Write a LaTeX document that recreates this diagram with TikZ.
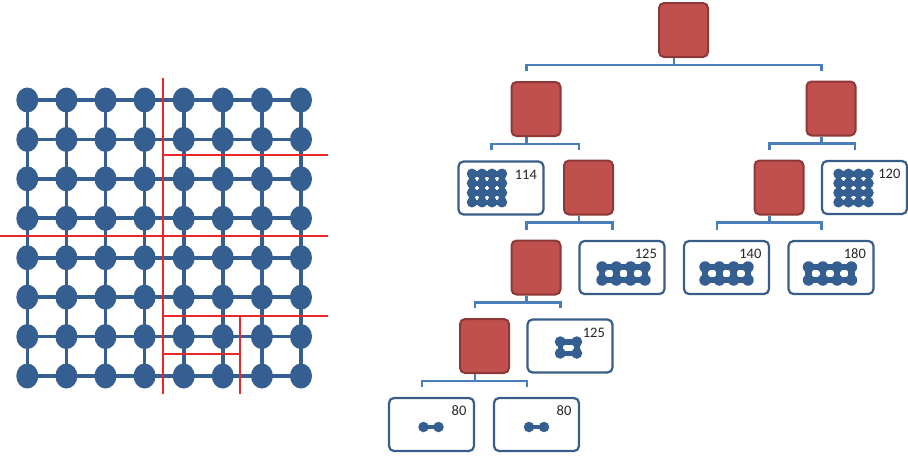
\documentclass[tikz,border=0pt]{standalone}
\usepackage{fontspec}
\setmainfont{Carlito}
\usetikzlibrary{shapes.geometric,calc}
\definecolor{nodeblue}{HTML}{365F91}
\definecolor{connblue}{HTML}{4A7EBB}
\definecolor{boxred}{HTML}{C0504D}
\definecolor{boxredline}{HTML}{8C3836}
\definecolor{leafline}{HTML}{385D8A}
\definecolor{cutred}{HTML}{E8282B}
\tikzset{
 bignode/.style={ellipse, fill=nodeblue, minimum width=22pt, minimum height=25pt, inner sep=0pt},
 bigedge/.style={nodeblue, line width=3.6pt},
 cutline/.style={cutred, line width=1.1pt},
 redbox/.style={draw=boxredline, fill=boxred, line width=2pt, rounded corners=5pt, minimum width=49pt, minimum height=54pt, inner sep=0pt},
 leafbox/.style={draw=leafline, fill=white, line width=2.2pt, rounded corners=5pt, minimum width=85pt, minimum height=53pt, inner sep=0pt},
 conn/.style={connblue, line width=2.8pt},
 numlabel/.style={anchor=east, font=\fontsize{14.5}{16}\selectfont, inner sep=0pt, text=black!85},
 minidot/.style={circle, fill=nodeblue, minimum size=#1, inner sep=0pt},
 miniedge/.style={nodeblue, line width=#1},
}
% name, cx, cy, cols, rows, dx, dy, dot size, edge width
\newcommand\dotgrid[9]{%
  \foreach \i in {1,...,#4}{\foreach \j in {1,...,#5}{%
    \node[minidot=#8] (#1-\i-\j) at ({#2+(\i-(#4+1)/2)*#6},{#3+(\j-(#5+1)/2)*#7}) {};}}%
  \foreach \i in {1,...,#4}{\foreach \j in {1,...,#5}{%
    \ifnum\i<#4 \pgfmathtruncatemacro\ni{\i+1}\draw[miniedge=#9] (#1-\i-\j.center) -- (#1-\ni-\j.center);\fi
    \ifnum\j<#5 \pgfmathtruncatemacro\nj{\j+1}\draw[miniedge=#9] (#1-\i-\j.center) -- (#1-\i-\nj.center);\fi
  }}%
}
% parent, child1, child2
\newcommand\branch[3]{%
  \draw[conn] ([xshift=-9.5pt]#1.south) -- ++(0,7) coordinate (#1-m);
  \draw[conn] ([xshift=-9.5pt,yshift=10pt]#2.north) |- (#1-m) -| ([xshift=-9.5pt,yshift=10pt]#3.north);
}
\begin{document}
\begin{tikzpicture}[x=1pt,y=-1pt]
\useasboundingbox (0,0) rectangle (908,472);
% big grid
\foreach \i in {1,...,8}{\foreach \j in {1,...,8}{%
  \node[bignode] (g-\i-\j) at ({27.3+39.1*(\i-1)},{100+39.43*(\j-1)}) {};}}
\foreach \i in {1,...,8}{\foreach \j in {1,...,8}{%
  \ifnum\i<8 \pgfmathtruncatemacro\ni{\i+1}\draw[bigedge] (g-\i-\j.center) -- (g-\ni-\j.center);\fi
  \ifnum\j<8 \pgfmathtruncatemacro\nj{\j+1}\draw[bigedge] (g-\i-\j.center) -- (g-\i-\nj.center);\fi
}}
% cut lines
\draw[cutline] (163,78) -- (163,394);
\draw[cutline] (0,236) -- (328,236);
\draw[cutline] (163,155) -- (328,155);
\draw[cutline] (163,316) -- (328,316);
\draw[cutline] (240,316) -- (240,394);
\draw[cutline] (163,354) -- (240,354);
% tree boxes
\node[redbox] (root) at (683.5,30) {};
\node[redbox] (L1) at (536,109) {};
\node[redbox] (R1) at (831,108.5) {};
\node[leafbox] (f114) at (501,188) {};
\node[redbox] (L2) at (588.5,187.5) {};
\node[redbox] (R2) at (779,187.5) {};
\node[leafbox] (f120) at (864.5,187.5) {};
\node[redbox] (L3) at (536,267.5) {};
\node[leafbox] (f125a) at (622,267.5) {};
\node[leafbox] (f140) at (726.5,267.5) {};
\node[leafbox] (f180) at (831,267.5) {};
\node[redbox] (L4) at (484.5,346) {};
\node[leafbox] (f125b) at (570,346) {};
\node[leafbox] (f80a) at (431.5,424.5) {};
\node[leafbox] (f80b) at (536.5,424.5) {};
% connectors
\branch{root}{L1}{R1}
\branch{L1}{f114}{L2}
\branch{R1}{R2}{f120}
\branch{L2}{L3}{f125a}
\branch{R2}{f140}{f180}
\branch{L3}{L4}{f125b}
\branch{L4}{f80a}{f80b}
% labels
\node[numlabel] (t114) at ([xshift=-7.5pt,yshift=-14pt]f114.north east) {114};
\node[numlabel] (t120) at ([xshift=-7.5pt,yshift=-14pt]f120.north east) {120};
\node[numlabel] (t125a) at ([xshift=-8.5pt,yshift=-14pt]f125a.north east) {125};
\node[numlabel] (t140) at ([xshift=-8.5pt,yshift=-14pt]f140.north east) {140};
\node[numlabel] (t180) at ([xshift=-8.5pt,yshift=-14pt]f180.north east) {180};
\node[numlabel] (t125b) at ([xshift=-8.5pt,yshift=-14pt]f125b.north east) {125};
\node[numlabel] (t80a) at ([xshift=-8.5pt,yshift=-14pt]f80a.north east) {80};
\node[numlabel] (t80b) at ([xshift=-8.5pt,yshift=-14pt]f80b.north east) {80};
% mini icons
\dotgrid{m114}{487}{188}{4}{4}{10}{9.5}{10.5pt}{5.5pt}
\dotgrid{m120}{853.5}{188}{4}{4}{10}{9.5}{10.5pt}{5.5pt}
\dotgrid{m125a}{623.5}{273.5}{4}{2}{14.3}{13}{11.5pt}{6.5pt}
\dotgrid{m140}{726.5}{273.5}{4}{2}{14.3}{13}{11.5pt}{6.5pt}
\dotgrid{m180}{830}{273.5}{4}{2}{14.3}{13}{11.5pt}{6.5pt}
\dotgrid{m125b}{568.5}{347.5}{2}{2}{16.5}{11.5}{11pt}{5.5pt}
\dotgrid{m80a}{431}{427}{2}{1}{15}{1}{10.5pt}{4.5pt}
\dotgrid{m80b}{536.5}{427}{2}{1}{15}{1}{10.5pt}{4.5pt}
\end{tikzpicture}
\end{document}
